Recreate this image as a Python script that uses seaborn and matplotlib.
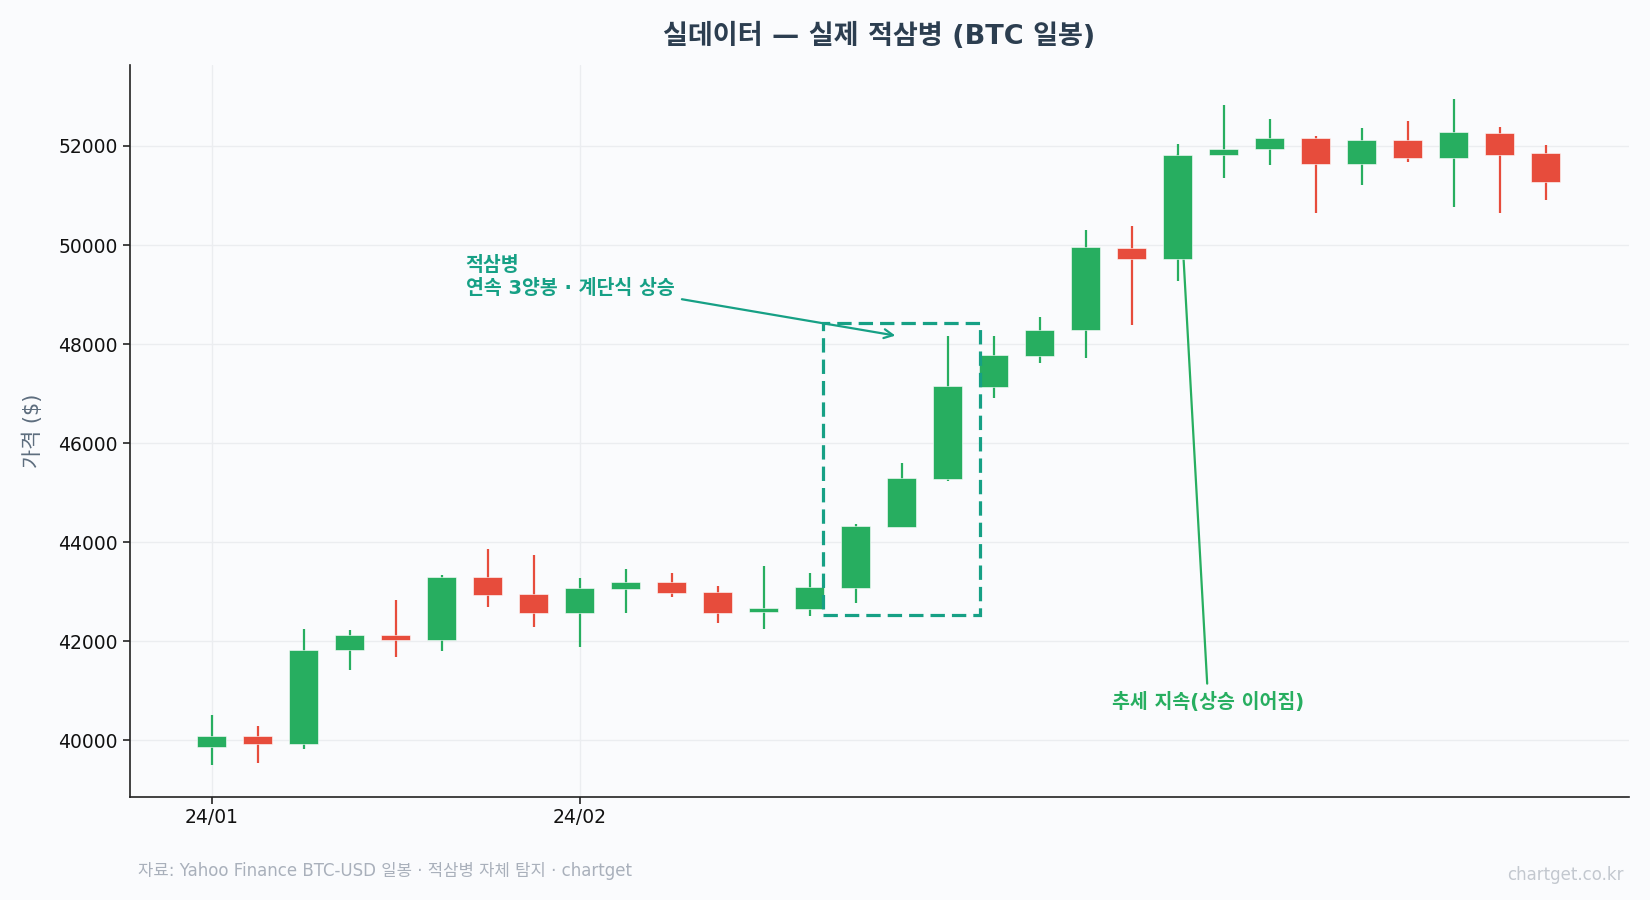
import numpy as np
import pandas as pd
import seaborn as sns
from matplotlib import pyplot as plt
from matplotlib.patches import Rectangle

# BTC 일봉 OHLC
opens = [39865, 40080, 39920, 41810, 42120, 42030, 43290, 42950, 42560, 43060,
         43190, 42990, 42580, 42650, 43080, 44310, 45280, 47140, 47750, 48290,
         49940, 49720, 51820, 51930, 52160, 51640, 52120, 51760, 52260, 51860]
closes = [40080, 39920, 41820, 42120, 42030, 43290, 42940, 42570, 43070, 43190,
          42980, 42570, 42660, 43090, 44320, 45290, 47150, 47780, 48280, 49960,
          49720, 51820, 51940, 52160, 51640, 52120, 51760, 52280, 51820, 51280]
highs = [40500, 40280, 42240, 42220, 42830, 43330, 43860, 43740, 43270, 43450,
         43370, 43110, 43510, 43370, 44360, 45600, 48160, 48160, 48540, 50300,
         50380, 52040, 52830, 52540, 52200, 52360, 52500, 52950, 52380, 52020]
lows = [39500, 39540, 39820, 41420, 41680, 41800, 42690, 42290, 41870, 42570,
        42880, 42370, 42250, 42510, 42770, 44300, 45240, 46900, 47610, 47720,
        48390, 49280, 51360, 51620, 50650, 51220, 51680, 50770, 50650, 50910]

tick_pos = [0, 8]
tick_labels = ['24/01', '24/02']

# 적삼병 구간 (캔들 인덱스)
pattern_start, pattern_end = 14, 16
trend_idx = 21

df = pd.DataFrame({'open': opens, 'close': closes, 'high': highs, 'low': lows})
df['x'] = np.arange(len(df))

UP = '#27ae60'
DOWN = '#e74c3c'
TEAL = '#16a085'
BG = '#fafbfd'

sns.set_theme(style='white')
plt.rcParams['font.family'] = ['DejaVu Sans', 'Noto Sans CJK KR']
plt.rcParams['axes.unicode_minus'] = False

fig = plt.figure(figsize=(16.5, 9), dpi=100, facecolor=BG)
ax = fig.add_axes([0.0785, 0.115, 0.9085, 0.813])
ax.set_facecolor(BG)

colors = [UP if c >= o else DOWN for o, c in zip(df['open'], df['close'])]

# 꼬리
ax.vlines(df['x'], df['low'], df['high'], colors=colors, linewidth=1.6, zorder=3)
# 몸통
body_bottom = np.minimum(df['open'], df['close'])
body_height = np.abs(df['close'] - df['open'])
ax.bar(df['x'], body_height, bottom=body_bottom, width=0.63, color=colors,
       edgecolor='white', linewidth=0.4, zorder=4)

# 적삼병 박스
seg = df.iloc[pattern_start:pattern_end + 1]
y0 = seg['low'].min() - 250
y1 = seg['high'].max() + 270
rect = Rectangle((pattern_start - 0.72, y0), (pattern_end - pattern_start) + 1.42, y1 - y0,
                 fill=False, edgecolor=TEAL, linewidth=2.3, linestyle=(0, (4.5, 2.2)), zorder=5)
ax.add_patch(rect)

ax.annotate('적삼병\n연속 3양봉 · 계단식 상승',
            xy=(pattern_start + 0.86, 48170), xytext=(5.52, 48930),
            ha='left', va='bottom', fontsize=14, fontweight='bold', color=TEAL,
            linespacing=1.25,
            arrowprops=dict(arrowstyle='->', color=TEAL, lw=1.6,
                            relpos=(1.0, 0.0), shrinkA=3, shrinkB=0,
                            mutation_scale=16),
            zorder=6)

ax.annotate('추세 지속(상승 이어짐)',
            xy=(trend_idx, closes[trend_idx]), xytext=(21.65, 40760),
            ha='center', va='center', fontsize=14, fontweight='bold', color=UP,
            arrowprops=dict(arrowstyle='-', color=UP, lw=1.6,
                            relpos=(0.5, 1.0), shrinkA=4, shrinkB=0),
            zorder=2)

ax.set_xlim(-1.79, 30.8)
ax.set_ylim(38860, 53640)
ax.set_yticks([40000, 42000, 44000, 46000, 48000, 50000, 52000])
ax.set_xticks(tick_pos)
ax.set_xticklabels(tick_labels)

ax.grid(True, color='#ebedf0', linewidth=1.0, zorder=0)
ax.set_axisbelow(True)
for side in ['top', 'right']:
    ax.spines[side].set_visible(False)
for side in ['left', 'bottom']:
    ax.spines[side].set_color('#222222')
    ax.spines[side].set_linewidth(1.2)
ax.tick_params(axis='both', labelsize=13.5, colors='#111111', length=5, width=1.1,
               direction='out', left=True, bottom=True)
ax.set_ylabel('가격 ($)', fontsize=15, color='#5d6d7e', labelpad=11)

fig.text(0.5327, 0.959, '실데이터 — 실제 적삼병 (BTC 일봉)', ha='center', va='center',
         fontsize=19.5, fontweight='bold', color='#2c3e50')
fig.text(138 / 1650, 1 - 871 / 900, '자료: Yahoo Finance BTC-USD 일봉 · 적삼병 자체 탐지 · chartget',
         ha='left', va='center', fontsize=12, color='#a9b0bb')
fig.text(1624 / 1650, 1 - 875 / 900, 'chartget.co.kr', ha='right', va='center',
         fontsize=12, color='#c3c8cf')

fig.savefig('out.png', dpi=100, facecolor=BG)
